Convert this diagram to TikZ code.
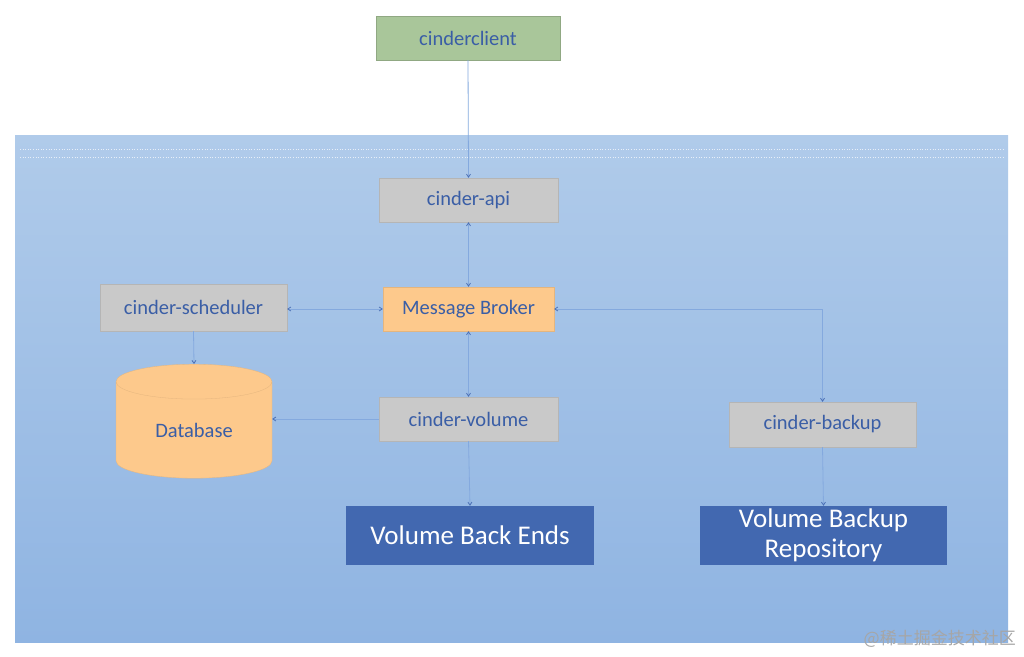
\documentclass[tikz,border=0pt]{standalone}
\usepackage{fontspec}
\setmainfont{Carlito}
\newfontfamily\cjk{Noto Sans CJK SC}
\usetikzlibrary{shapes.geometric,arrows.meta}
\definecolor{bgtop}{HTML}{B0CBEA}
\definecolor{bgbot}{HTML}{8FB4E2}
\definecolor{greenbox}{HTML}{A9C69A}
\definecolor{graybox}{HTML}{C9C9C9}
\definecolor{orangebox}{HTML}{FDC98C}
\definecolor{darkblue}{HTML}{4268B0}
\definecolor{txtblue}{HTML}{3A5EA6}
\definecolor{linkc}{HTML}{84A9DE}
\definecolor{tipc}{HTML}{4B6FB5}
\begin{document}
\begin{tikzpicture}[x=1pt,y=-1pt,
  boxbase/.style={rectangle,inner sep=0pt,font=\fontsize{20.5}{24}\selectfont,text=txtblue},
  greenb/.style={boxbase,fill=greenbox,draw=greenbox!85!black,line width=0.3pt},
  grayb/.style={boxbase,fill=graybox,draw=graybox!90!black,line width=0.3pt},
  orangeb/.style={boxbase,fill=orangebox,draw=orangebox!90!black,line width=0.3pt},
  blueb/.style={rectangle,inner sep=0pt,fill=darkblue,text=white,font=\fontsize{27}{31}\selectfont,align=center},
  link/.style={draw=linkc,line width=0.8pt},
  tip/.style={-{Straight Barb[length=3pt,width=4pt,color=tipc]}},
  tips/.style={{Straight Barb[length=3pt,width=4pt,color=tipc]}-{Straight Barb[length=3pt,width=4pt,color=tipc]}}
]
\useasboundingbox (0,0) rectangle (1024,656);
\fill[white] (0,0) rectangle (1024,656);
\shade[top color=bgtop,bottom color=bgbot] (15,135) rectangle (1008,642);
\draw[white,line width=0.6pt,dotted,opacity=0.7] (20,149) -- (1003,149);
\draw[white,line width=0.6pt,dotted,opacity=0.7] (20,157) -- (1003,157);

\node[greenb,minimum width=184pt,minimum height=44pt] (client) at (468,38) {cinderclient};
\node[grayb,minimum width=179pt,minimum height=44pt] (api) at (468.5,200) {cinder-api};
\node[orangeb,minimum width=171pt,minimum height=44pt] (broker) at (468.5,309) {Message Broker};
\node[grayb,minimum width=187pt,minimum height=47pt] (sched) at (193.5,307.5) {cinder-scheduler};
\node[grayb,minimum width=179pt,minimum height=44pt] (volume) at (468.5,419) {cinder-volume};
\node[grayb,minimum width=187pt,minimum height=45pt] (backup) at (822.5,424.5) {cinder-backup};
\node[cylinder,shape border rotate=90,aspect=0.45,fill=orangebox,draw=orangebox!90!black,line width=0.3pt,
      minimum width=156pt,minimum height=114pt,inner sep=0pt,font=\fontsize{20.5}{24}\selectfont,text=txtblue]
      (db) at (194,430) {Database};
\node[blueb,minimum width=248pt,minimum height=59pt] (vbe) at (470,535.5) {Volume Back Ends};
\node[blueb,minimum width=247pt,minimum height=59pt] (vbr) at (823.5,535.5) {Volume Backup\\[-1pt]Repository};

\draw[link,tip] (client.south) -- (api.north);
\draw[link,tips] (api.south) -- (broker.north);
\draw[link,tips] (broker.west) -- (sched.east |- broker.west);
\draw[link,tips] (broker.south) -- (volume.north);
\coordinate (corner) at (backup.north |- broker.east);
\draw[link,tips] (broker.east) -- (corner) -- (backup.north);
\draw[link,tip] (sched.south) -- (db.north);
\draw[link,tip] (volume.west) -- (db.east |- volume.west);
\draw[link,tip] (volume.south) -- (vbe.north);
\draw[link,tip] (backup.south) -- (vbr.north);

\node[anchor=east,text=black!35,font=\cjk\fontsize{17}{20}\selectfont,inner sep=0pt] (wm) at (1016,639) {@稀土掘金技术社区};
\end{tikzpicture}
\end{document}
